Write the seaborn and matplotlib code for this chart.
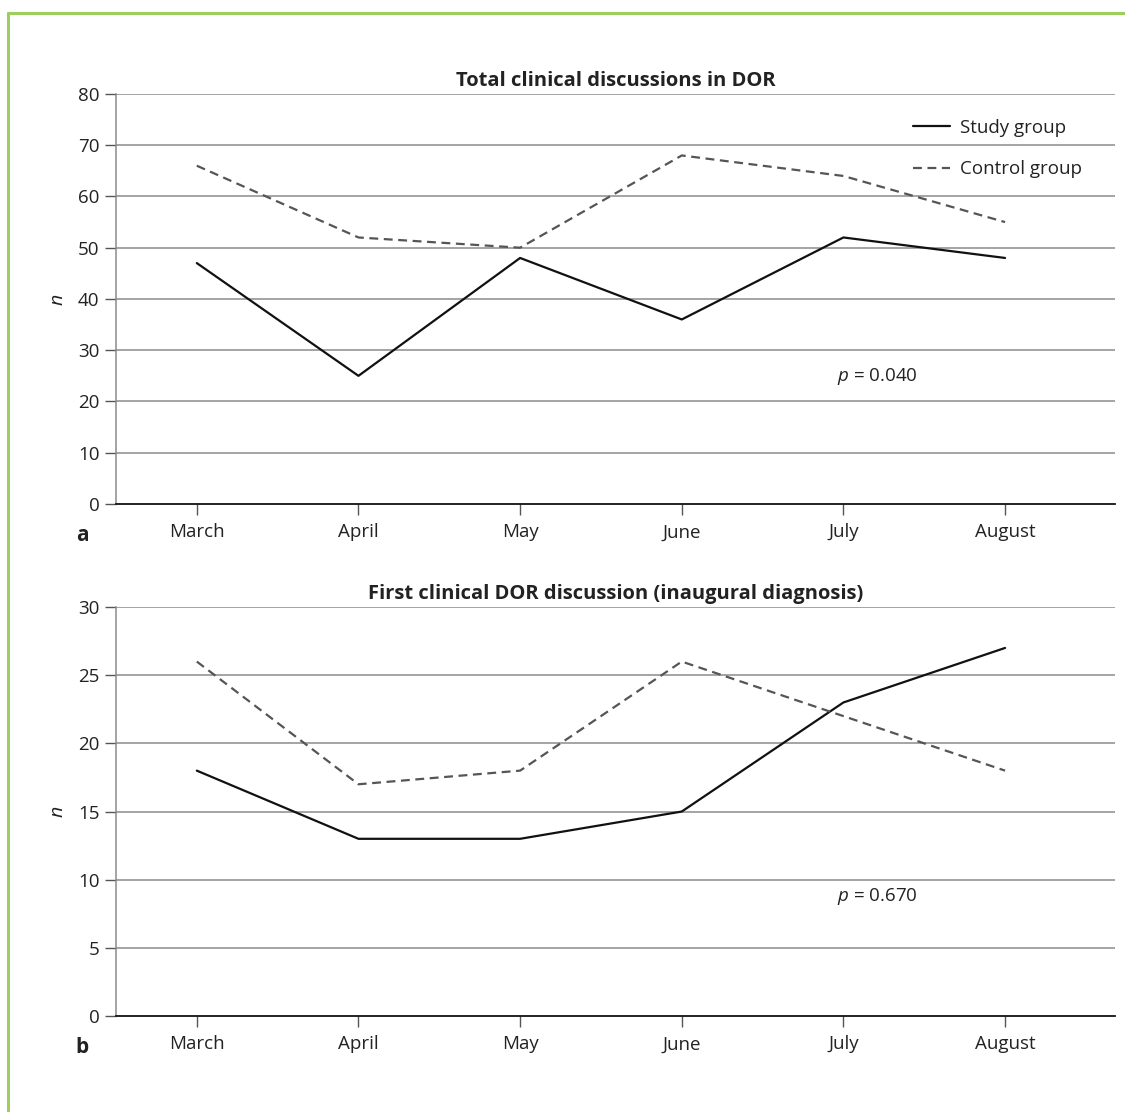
import numpy as np
import pandas as pd
import matplotlib.pyplot as plt
import seaborn as sns
from matplotlib.lines import Line2D

months = ["March", "April", "May", "June", "July", "August"]
groups = ["Study group", "Control group"]

total_study = [47, 25, 48, 36, 52, 48]
total_control = [66, 52, 50, 68, 64, 55]
first_study = [18, 13, 13, 15, 23, 27]
first_control = [26, 17, 18, 26, 22, 18]

titles = ["Total clinical discussions in DOR",
          "First clinical DOR discussion (inaugural diagnosis)"]
p_values = ["0.040", "0.670"]
panel_labels = ["a", "b"]
y_limits = [(0, 80), (0, 30)]
y_steps = [10, 5]
p_positions = [(4.21, 24.8), (4.21, 8.8)]

sns.set_theme(style="white")
plt.rcParams["font.family"] = ["Open Sans", "DejaVu Sans"]
plt.rcParams["mathtext.fontset"] = "custom"
plt.rcParams["mathtext.it"] = "Open Sans:italic"
plt.rcParams["mathtext.rm"] = "Open Sans"

GRID = "#8c8c8c"
TEXT = "#222222"
FS = 13.5


def long_frame(study, control):
    return pd.DataFrame({
        "month": months * 2,
        "x": list(range(len(months))) * 2,
        "n": study + control,
        "group": [groups[0]] * len(months) + [groups[1]] * len(months),
    })


fig = plt.figure(figsize=(11.25, 11.12), dpi=100)
ax_a = fig.add_axes([0.1031, 0.5468, 0.888, 0.3687])
ax_b = fig.add_axes([0.1031, 0.0863, 0.888, 0.3678])

frames = [long_frame(total_study, total_control), long_frame(first_study, first_control)]

for i, (ax, frame) in enumerate(zip([ax_a, ax_b], frames)):
    lo, hi = y_limits[i]
    for v in np.arange(lo + y_steps[i], hi + 0.1, y_steps[i]):
        ax.axhline(v, color=GRID, lw=1.1, zorder=0)
    sns.lineplot(
        data=frame, x="x", y="n", hue="group", style="group",
        palette={groups[0]: "#111111", groups[1]: "#555555"},
        dashes={groups[0]: "", groups[1]: (4, 2.5)},
        linewidth=1.6, ax=ax, legend=(i == 0), zorder=3,
    )
    ax.set_xlim(-0.5, 5.68)
    ax.set_ylim(lo, hi)
    ax.set_xticks(range(len(months)))
    ax.set_xticklabels(months)
    ax.set_yticks(np.arange(lo, hi + 0.1, y_steps[i]))
    ax.set_xlabel("")
    ax.set_ylabel("n", fontstyle="italic", fontsize=14, color=TEXT, labelpad=8)
    for side in ["top", "right"]:
        ax.spines[side].set_visible(False)
    ax.spines["left"].set_color(GRID)
    ax.spines["left"].set_linewidth(1.1)
    ax.spines["bottom"].set_color("#111111")
    ax.spines["bottom"].set_linewidth(1.3)
    ax.tick_params(axis="both", which="major", direction="out", length=8,
                   width=1.0, color="#555555", labelsize=FS, labelcolor=TEXT,
                   bottom=True, left=True, pad=4)
    ax.tick_params(axis="x", pad=6)
    ax.set_title(titles[i], fontsize=14.5, fontweight="bold", color=TEXT, pad=6)
    ax.text(p_positions[i][0], p_positions[i][1], "$p$ = " + p_values[i],
            fontsize=FS, color=TEXT, ha="center", va="center")
    ax.text(-0.034, -0.076, panel_labels[i], transform=ax.transAxes,
            fontsize=15, fontweight="bold", color=TEXT, ha="center", va="center")

leg = ax_a.legend(loc="upper right", bbox_to_anchor=(0.984, 0.98), frameon=False,
                  fontsize=FS, handlelength=1.95, handletextpad=0.55,
                  labelspacing=1.25, title=None)
for t in leg.get_texts():
    t.set_color(TEXT)
for h in leg.get_lines():
    h.set_linewidth(1.6)

green = "#9ccf5e"
fig.add_artist(Line2D([8 / 1125, 8 / 1125], [0, 1 - 13 / 1112], color=green, lw=2.2,
                      transform=fig.transFigure))
fig.add_artist(Line2D([8 / 1125, 1], [1 - 13 / 1112, 1 - 13 / 1112], color=green, lw=2.2,
                      transform=fig.transFigure))

fig.savefig("out.png", dpi=100)
